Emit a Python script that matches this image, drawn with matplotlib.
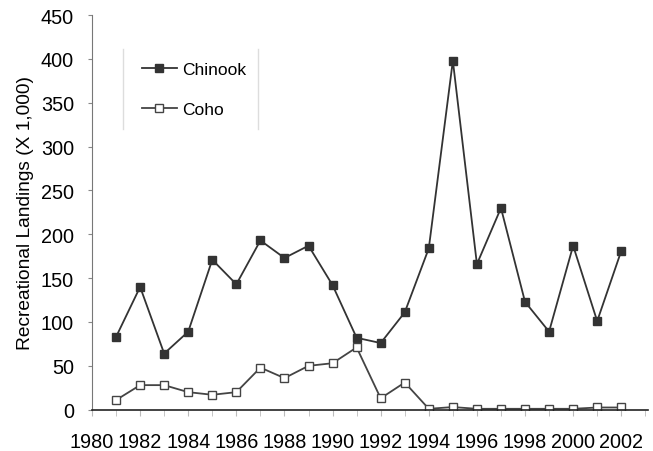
import numpy as np
import matplotlib
matplotlib.use('Agg')
import matplotlib.pyplot as plt
from matplotlib.lines import Line2D

plt.rcParams['font.family'] = ['Liberation Sans', 'DejaVu Sans']

# data
years = np.arange(1981, 2003)
chinook = [83, 140, 64, 89, 171, 143, 193, 173, 187, 142, 82, 76,
           111, 184, 398, 166, 230, 123, 89, 187, 101, 181]
coho = [11, 28, 28, 20, 17, 20, 48, 36, 50, 53, 71, 13,
        31, 1, 3, 1, 1, 1, 1, 1, 2.5, 2.5]

xticks = np.arange(1980, 2003, 2)
yticks = np.arange(0, 451, 50)


def main():
    fig = plt.figure(figsize=(6.53, 4.52), dpi=100)
    ax = fig.add_axes([0.1409, 0.0914, 0.851, 0.873])

    ax.plot(years, chinook, color='#333333', lw=1.3, marker='s', ms=6.3,
            mfc='#333333', mec='#333333', label='Chinook')
    ax.plot(years, coho, color='#444444', lw=1.3, marker='s', ms=6,
            mfc='white', mec='#444444', mew=1.0, label='Coho')

    ax.set_xlim(1980, 2003.1)
    ax.set_ylim(0, 450)
    ax.set_xticks(xticks)
    ax.set_xticks(np.arange(1980, 2004, 1), minor=True)
    ax.set_yticks(yticks)
    ax.tick_params(axis='x', which='both', direction='out', length=4,
                   color='#bbbbbb', labelsize=14.3, pad=12)
    ax.tick_params(axis='y', direction='out', length=3, color='#888888',
                   labelsize=14.3, pad=10)
    for s in ['top', 'right']:
        ax.spines[s].set_visible(False)
    ax.spines['left'].set_color('#777777')
    ax.spines['bottom'].set_color('#222222')
    ax.spines['bottom'].set_linewidth(1.2)

    ax.set_ylabel('Recreational Landings (X 1,000)', fontsize=13.8, labelpad=5)

    leg = ax.legend(loc='upper left', bbox_to_anchor=(0.061, 0.922),
                    frameon=False, fontsize=12.5, handlelength=2.05,
                    handletextpad=0.3, labelspacing=1.45)

    # faint side rules of the legend box
    for xf in [123 / 653, 258 / 653]:
        fig.add_artist(Line2D([xf, xf], [1 - 50 / 452, 1 - 130 / 452],
                              color='#dddddd', lw=1))

    fig.savefig('out.png', dpi=100)


if __name__ == "__main__":
    main()
